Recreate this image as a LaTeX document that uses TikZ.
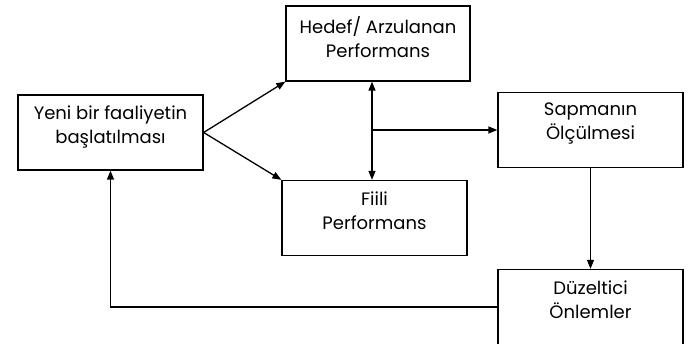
\documentclass[tikz,border=0pt]{standalone}
\usepackage{fontspec}
\setmainfont{Poppins}
\usetikzlibrary{arrows.meta}

\begin{document}
\begin{tikzpicture}[x=1pt,y=-1pt,>={Triangle[length=9pt,width=7pt]},line width=1.3pt,
                    box/.style={rectangle,draw,minimum width=185pt,minimum height=75pt,inner sep=0pt},
                    box text/.style={anchor=north,align=center,inner sep=0pt,
                      font=\fontsize{18}{24}\selectfont}]
  \useasboundingbox (0,0) rectangle (692,344);

  % kutular
  \node[box] (start) at (110.5,132.5) {};
  \node[box,minimum width=184pt] (hedef) at (378,43.5) {};
  \node[box] (fiili) at (374.5,218) {};
  \node[box] (sapma) at (590.5,130) {};
  \node[box] (duzelt) at (590.5,307) {};

  \node[box text] (start t) at ([yshift=-11pt]start.north) {Yeni bir faaliyetin\\başlatılması};
  \node[box text] (hedef t) at ([yshift=-11pt]hedef.north) {Hedef/ Arzulanan\\Performans};
  \node[box text] (fiili t) at ([yshift=-11pt]fiili.north) {Fiili\\Performans};
  \node[box text] (sapma t) at ([yshift=-10pt]sapma.north) {Sapmanın\\Ölçülmesi};
  \node[box text] (duzelt t) at ([yshift=-11pt]duzelt.north) {Düzeltici\\Önlemler};

  \coordinate (mid) at (372,130);

  \draw[->] (start.east) -- (hedef.south west);
  \draw[->] (start.east) -- (fiili.north west);
  \draw[<->] (mid |- hedef.south) -- (mid |- fiili.north);
  \draw[->] (mid) -- (sapma.west);
  \draw[->] (sapma.south) -- (duzelt.north);
  % geri besleme
  \draw[->] (duzelt.west) -| (start.south);
\end{tikzpicture}
\end{document}
